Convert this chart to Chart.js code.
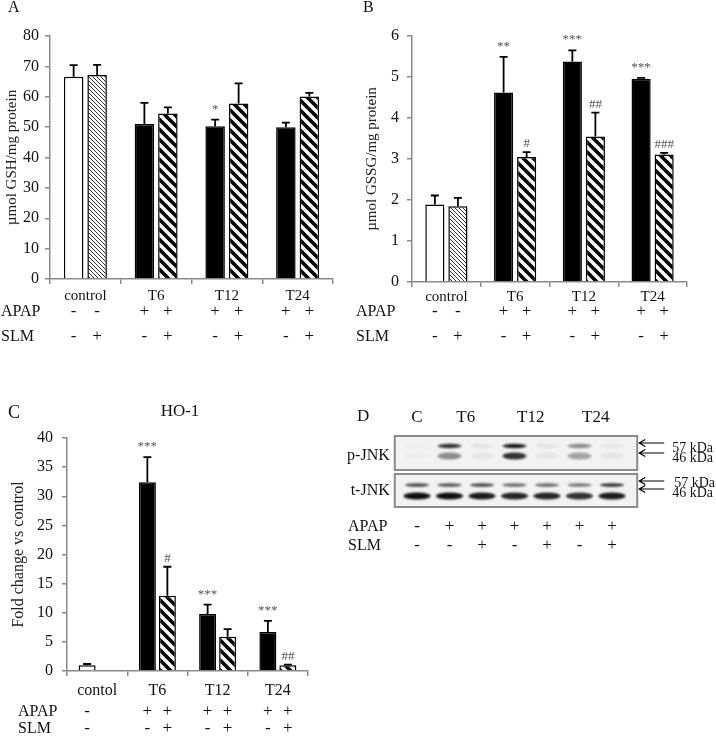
<!DOCTYPE html>
<html>
<head>
<meta charset="utf-8">
<script src="https://cdn.jsdelivr.net/npm/chart.js@4"></script>
<style>
  body { margin: 0; background: #fff; width: 716px; height: 739px; position: relative; overflow: hidden; }
  canvas { position: absolute; }
</style>
</head>
<body>
<canvas id="cA" width="360" height="360" style="left:0;top:0"></canvas>
<canvas id="cB" width="361" height="360" style="left:355px;top:0"></canvas>
<canvas id="cC" width="360" height="379" style="left:0;top:360px"></canvas>
<canvas id="cD" width="376" height="165" style="left:340px;top:395px"></canvas>
<script>
// ---- data ----
const groups = ['control', 'T6', 'T12', 'T24'];
const groupsC = ['contol', 'T6', 'T12', 'T24'];

// A: GSH
const gshApap = [66.6, 51.0, 50.3, 50.0];
const gshApapSd = [3.8, 7.0, 2.2, 1.5];
const gshSlm = [67.2, 54.5, 57.8, 60.1];
const gshSlmSd = [3.3, 2.0, 6.6, 1.2];
const gshApapSig = ['', '', '*', ''];
const gshSlmSig = ['', '', '', ''];

// B: GSSG
const gssgApap = [1.89, 4.62, 5.38, 4.96];
const gssgApapSd = [0.22, 0.87, 0.27, 0.02];
const gssgSlm = [1.85, 3.05, 3.55, 3.11];
const gssgSlmSd = [0.20, 0.12, 0.58, 0.04];
const gssgApapSig = ['', '**', '***', '***'];
const gssgSlmSig = ['', '#', '##', '###'];

// C: HO-1
const hoApap = [1.0, 32.4, 9.8, 6.7];
const hoApapSd = [0.2, 4.3, 1.6, 1.9];
const hoSlm = [null, 12.9, 5.9, 1.0];
const hoSlmSd = [null, 5.0, 1.3, 0.1];
const hoApapSig = ['', '***', '***', '***'];
const hoSlmSig = ['', '#', '', '##'];

// treatment rows under the bars
const apapFirst = ['-', '+', '+', '+'];
const apapSecond = ['-', '+', '+', '+'];
const slmFirst = ['-', '-', '-', '-'];
const slmSecond = ['+', '+', '+', '+'];

// D: western blot lanes, band intensities 0..1
const lanes = ['C', 'T6', 'T6', 'T12', 'T12', 'T24', 'T24'];
const laneApap = ['-', '+', '+', '+', '+', '+', '+'];
const laneSlm = ['-', '-', '+', '-', '+', '-', '+'];
const pJnk57 = [0.02, 0.85, 0.06, 0.95, 0.06, 0.45, 0.05];
const pJnk46 = [0.02, 0.45, 0.05, 0.85, 0.05, 0.35, 0.05];
const tJnk57 = [0.75, 0.7, 0.75, 0.6, 0.6, 0.55, 0.85];
const tJnk46 = [1.0, 1.0, 0.95, 0.9, 0.9, 0.85, 0.95];

const SERIF = '"Liberation Serif", "Times New Roman", serif';
Chart.defaults.font.family = SERIF;
Chart.defaults.color = '#111';

function hatch(size, lw, color) {
  const c = document.createElement('canvas');
  c.width = size; c.height = size;
  const g = c.getContext('2d');
  g.fillStyle = '#fff';
  g.fillRect(0, 0, size, size);
  g.strokeStyle = color;
  g.lineWidth = lw;
  g.lineCap = 'square';
  for (const k of [-1, 0, 1]) {
    g.beginPath();
    g.moveTo(k * size, 0);
    g.lineTo(k * size + size, size);
    g.stroke();
  }
  return g.createPattern(c, 'repeat');
}
const fineHatch = hatch(4, 1, '#333');
const thickHatch = hatch(10, 3.6, '#000');

const errPlugin = {
  id: 'err',
  afterDatasetsDraw(chart) {
    const ctx = chart.ctx, y = chart.scales.y;
    ctx.save();
    chart.data.datasets.forEach((ds, d) => {
      chart.getDatasetMeta(d).data.forEach((bar, i) => {
        const v = ds.data[i];
        if (v == null) return;
        const sd = ds.sd[i] || 0;
        const top = y.getPixelForValue(v + sd);
        if (sd > 0) {
          ctx.strokeStyle = '#000';
          ctx.lineWidth = 1.8;
          ctx.beginPath();
          ctx.moveTo(bar.x, bar.y);
          ctx.lineTo(bar.x, top);
          ctx.moveTo(bar.x - 4, top);
          ctx.lineTo(bar.x + 4, top);
          ctx.stroke();
        }
        const s = ds.sig[i];
        if (s) {
          ctx.fillStyle = '#555';
          ctx.font = '13px ' + SERIF;
          ctx.textAlign = 'center';
          ctx.textBaseline = 'alphabetic';
          ctx.fillText(s, bar.x, top - (s[0] === '*' ? 7 : 5));
        }
      });
    });
    ctx.restore();
  }
};

const rowsPlugin = {
  id: 'rows',
  afterDraw(chart, args, o) {
    const ctx = chart.ctx;
    ctx.save();
    ctx.font = '16px ' + SERIF;
    ctx.fillStyle = '#111';
    ctx.textBaseline = 'middle';
    ctx.textAlign = 'left';
    ctx.fillText('APAP', o.labelX, o.apapY);
    ctx.fillText('SLM', o.labelX, o.slmY);
    ctx.textAlign = 'center';
    ctx.font = '17px ' + SERIF;
    chart.data.datasets.forEach((ds, d) => {
      chart.getDatasetMeta(d).data.forEach((bar, i) => {
        if (ds.data[i] == null) return;
        ctx.fillText(ds.apapSign[i], bar.x, o.apapY);
        ctx.fillText(ds.slmSign[i], bar.x, o.slmY);
      });
    });
    ctx.restore();
  }
};

const textPlugin = {
  id: 'texts',
  afterDraw(chart, args, o) {
    const ctx = chart.ctx;
    ctx.save();
    ctx.textBaseline = 'middle';
    ctx.fillStyle = '#111';
    o.items.forEach(t => {
      ctx.font = t.size + 'px ' + SERIF;
      ctx.textAlign = t.align || 'left';
      ctx.fillText(t.text, t.x, t.y);
    });
    ctx.restore();
  }
};

function barPanel(id, p) {
  const axisGrey = '#8a8a8a';
  new Chart(document.getElementById(id), {
    type: 'bar',
    data: {
      labels: p.labels,
      datasets: [
        {
          data: p.apap, sd: p.apapSd, sig: p.apapSig, apapSign: apapFirst, slmSign: slmFirst,
          backgroundColor: p.apap.map((v, i) => i === 0 ? '#fff' : '#000'),
          borderColor: '#000', borderWidth: 1.5,
          categoryPercentage: p.catPct, barPercentage: p.barPct
        },
        {
          data: p.slm, sd: p.slmSd, sig: p.slmSig, apapSign: apapSecond, slmSign: slmSecond,
          backgroundColor: p.slm.map((v, i) => i === 0 ? fineHatch : thickHatch),
          borderColor: '#000', borderWidth: 1.5,
          categoryPercentage: p.catPct, barPercentage: p.barPct
        }
      ]
    },
    options: {
      responsive: false,
      animation: false,
      devicePixelRatio: 1,
      layout: { padding: { top: p.top, right: p.right, left: 0, bottom: 0 } },
      plugins: {
        legend: { display: false },
        tooltip: { enabled: false },
        rows: p.rows,
        texts: { items: p.texts }
      },
      scales: {
        x: {
          offset: true,
          grid: { offset: true, drawOnChartArea: false, tickLength: 5, color: axisGrey, lineWidth: 1.5 },
          border: { color: axisGrey, width: 1.5 },
          ticks: { color: '#111', font: { size: p.catSize }, padding: p.catPad, maxRotation: 0, autoSkip: false },
          afterFit: s => { s.height = p.xh; }
        },
        y: {
          min: 0, max: p.max,
          grid: { drawOnChartArea: false, tickLength: 5, color: axisGrey, lineWidth: 1.5 },
          border: { color: axisGrey, width: 1.5 },
          ticks: { stepSize: p.step, color: '#111', font: { size: p.tickSize }, padding: p.tickPad },
          title: { display: true, text: p.title, color: '#222', font: { size: p.titleSize }, padding: { top: p.titlePad, bottom: 0 } },
          afterFit: s => { s.width = p.yw; }
        }
      }
    },
    plugins: [errPlugin, rowsPlugin, textPlugin]
  });
}

barPanel('cA', {
  labels: groups, apap: gshApap, apapSd: gshApapSd, apapSig: gshApapSig,
  slm: gshSlm, slmSd: gshSlmSd, slmSig: gshSlmSig,
  max: 80, step: 10, title: 'µmol GSH/mg protein',
  top: 36, right: 27, xh: 81, yw: 50,
  catPct: 0.664, barPct: 0.83, catSize: 15, catPad: 3, tickSize: 16, tickPad: 6, titleSize: 15, titlePad: 3,
  rows: { labelX: 1, apapY: 312, slmY: 337 },
  texts: [{ text: 'A', x: 8, y: 8, size: 16 }]
});

barPanel('cB', {
  labels: groups, apap: gssgApap, apapSd: gssgApapSd, apapSig: gssgApapSig,
  slm: gssgSlm, slmSd: gssgSlmSd, slmSig: gssgSlmSig,
  max: 6, step: 1, title: 'µmol GSSG/mg protein',
  top: 36, right: 29, xh: 78, yw: 57,
  catPct: 0.67, barPct: 0.83, catSize: 15, catPad: 1, tickSize: 16, tickPad: 8, titleSize: 15, titlePad: 8,
  rows: { labelX: 1, apapY: 312, slmY: 337 },
  texts: [{ text: 'B', x: 8, y: 8, size: 16 }]
});

barPanel('cC', {
  labels: groupsC, apap: hoApap, apapSd: hoApapSd, apapSig: hoApapSig,
  slm: hoSlm, slmSd: hoSlmSd, slmSig: hoSlmSig,
  max: 40, step: 5, title: 'Fold change vs control',
  top: 78, right: 52, xh: 68, yw: 67,
  catPct: 0.664, barPct: 0.85, catSize: 16, catPad: 5, tickSize: 16, tickPad: 9, titleSize: 16, titlePad: 9,
  rows: { labelX: 18, apapY: 352, slmY: 369 },
  texts: [
    { text: 'C', x: 8, y: 53, size: 18 },
    { text: 'HO-1', x: 180, y: 52, size: 17, align: 'center' }
  ]
});

// ---- D: blot drawn on a category scale of lanes ----
const blotPlugin = {
  id: 'blot',
  afterDraw(chart) {
    const ctx = chart.ctx, a = chart.chartArea, x = chart.scales.x;
    const boxL = a.left - 6, boxR = a.right + 9;
    const box1 = { top: a.top, bottom: a.top + 34 };
    const box2 = { top: a.top + 38, bottom: a.bottom };
    ctx.save();
    [box1, box2].forEach(b => {
      ctx.fillStyle = '#f2f2f2';
      ctx.fillRect(boxL, b.top, boxR - boxL, b.bottom - b.top);
    });
    // bands
    ctx.filter = 'blur(1.2px)';
    chart.data.datasets.forEach(ds => {
      const box = ds.box === 1 ? box1 : box2;
      ds.data.forEach((v, i) => {
        const cx = x.getPixelForValue(i);
        ctx.fillStyle = 'rgba(15,15,15,' + v + ')';
        ctx.beginPath();
        ctx.ellipse(cx, box.top + ds.dy, ds.w / 2, ds.h / 2, 0, 0, Math.PI * 2);
        ctx.fill();
      });
    });
    ctx.filter = 'none';
    ctx.strokeStyle = '#8a8a8a';
    ctx.lineWidth = 2;
    [box1, box2].forEach(b => ctx.strokeRect(boxL, b.top, boxR - boxL, b.bottom - b.top));

    // arrows
    ctx.strokeStyle = '#000';
    ctx.lineWidth = 1.2;
    const arrows = [box1.top + 7, box1.top + 17, box2.top + 7, box2.top + 15];
    arrows.forEach(ay => {
      ctx.beginPath();
      ctx.moveTo(boxR + 2, ay);
      ctx.lineTo(boxR + 27, ay);
      ctx.moveTo(boxR + 8, ay - 3.5);
      ctx.lineTo(boxR + 2, ay);
      ctx.lineTo(boxR + 8, ay + 3.5);
      ctx.stroke();
    });

    ctx.fillStyle = '#111';
    ctx.textBaseline = 'middle';
    ctx.font = '14px ' + SERIF;
    ctx.textAlign = 'left';
    ctx.fillText('57 kDa', boxR + 35, box1.top + 12);
    ctx.fillText('46 kDa', boxR + 35, box1.top + 22);
    ctx.fillText('57 kDa', boxR + 37, box2.top + 9);
    ctx.fillText('46 kDa', boxR + 35, box2.top + 19);

    ctx.font = '16px ' + SERIF;
    ctx.textAlign = 'right';
    ctx.fillText('p-JNK', boxL - 5, (box1.top + box1.bottom) / 2 + 3);
    ctx.fillText('t-JNK', boxL - 5, (box2.top + box2.bottom) / 2);

    // lane headers, centred over the lanes sharing a label
    ctx.font = '17px ' + SERIF;
    ctx.textAlign = 'center';
    const seen = {};
    lanes.forEach((l, i) => { (seen[l] = seen[l] || []).push(x.getPixelForValue(i)); });
    Object.keys(seen).forEach(l => {
      const xs = seen[l];
      ctx.fillText(l, xs.reduce((s, v) => s + v, 0) / xs.length, a.top - 18);
    });
    ctx.textAlign = 'left';
    ctx.fillText('D', 17, a.top - 19);

    // treatment rows
    ctx.font = '16px ' + SERIF;
    ctx.fillText('APAP', 8, a.bottom + 20);
    ctx.fillText('SLM', 8, a.bottom + 39);
    ctx.textAlign = 'center';
    ctx.font = '17px ' + SERIF;
    lanes.forEach((l, i) => {
      const cx = x.getPixelForValue(i);
      ctx.fillText(laneApap[i], cx, a.bottom + 20);
      ctx.fillText(laneSlm[i], cx, a.bottom + 39);
    });
    ctx.restore();
  }
};

new Chart(document.getElementById('cD'), {
  type: 'bar',
  data: {
    labels: lanes,
    datasets: [
      { data: pJnk57, box: 1, dy: 10, w: 24, h: 4.5, backgroundColor: 'transparent', borderWidth: 0 },
      { data: pJnk46, box: 1, dy: 20, w: 24, h: 7, backgroundColor: 'transparent', borderWidth: 0 },
      { data: tJnk57, box: 2, dy: 11, w: 24, h: 3.5, backgroundColor: 'transparent', borderWidth: 0 },
      { data: tJnk46, box: 2, dy: 22, w: 27, h: 7, backgroundColor: 'transparent', borderWidth: 0 }
    ]
  },
  options: {
    responsive: false,
    animation: false,
    devicePixelRatio: 1,
    layout: { padding: { left: 60.75, right: 87.75, top: 41, bottom: 53 } },
    plugins: { legend: { display: false }, tooltip: { enabled: false } },
    scales: {
      x: { display: false, offset: true },
      y: { display: false, min: 0, max: 1 }
    }
  },
  plugins: [blotPlugin]
});
</script>
</body>
</html>
